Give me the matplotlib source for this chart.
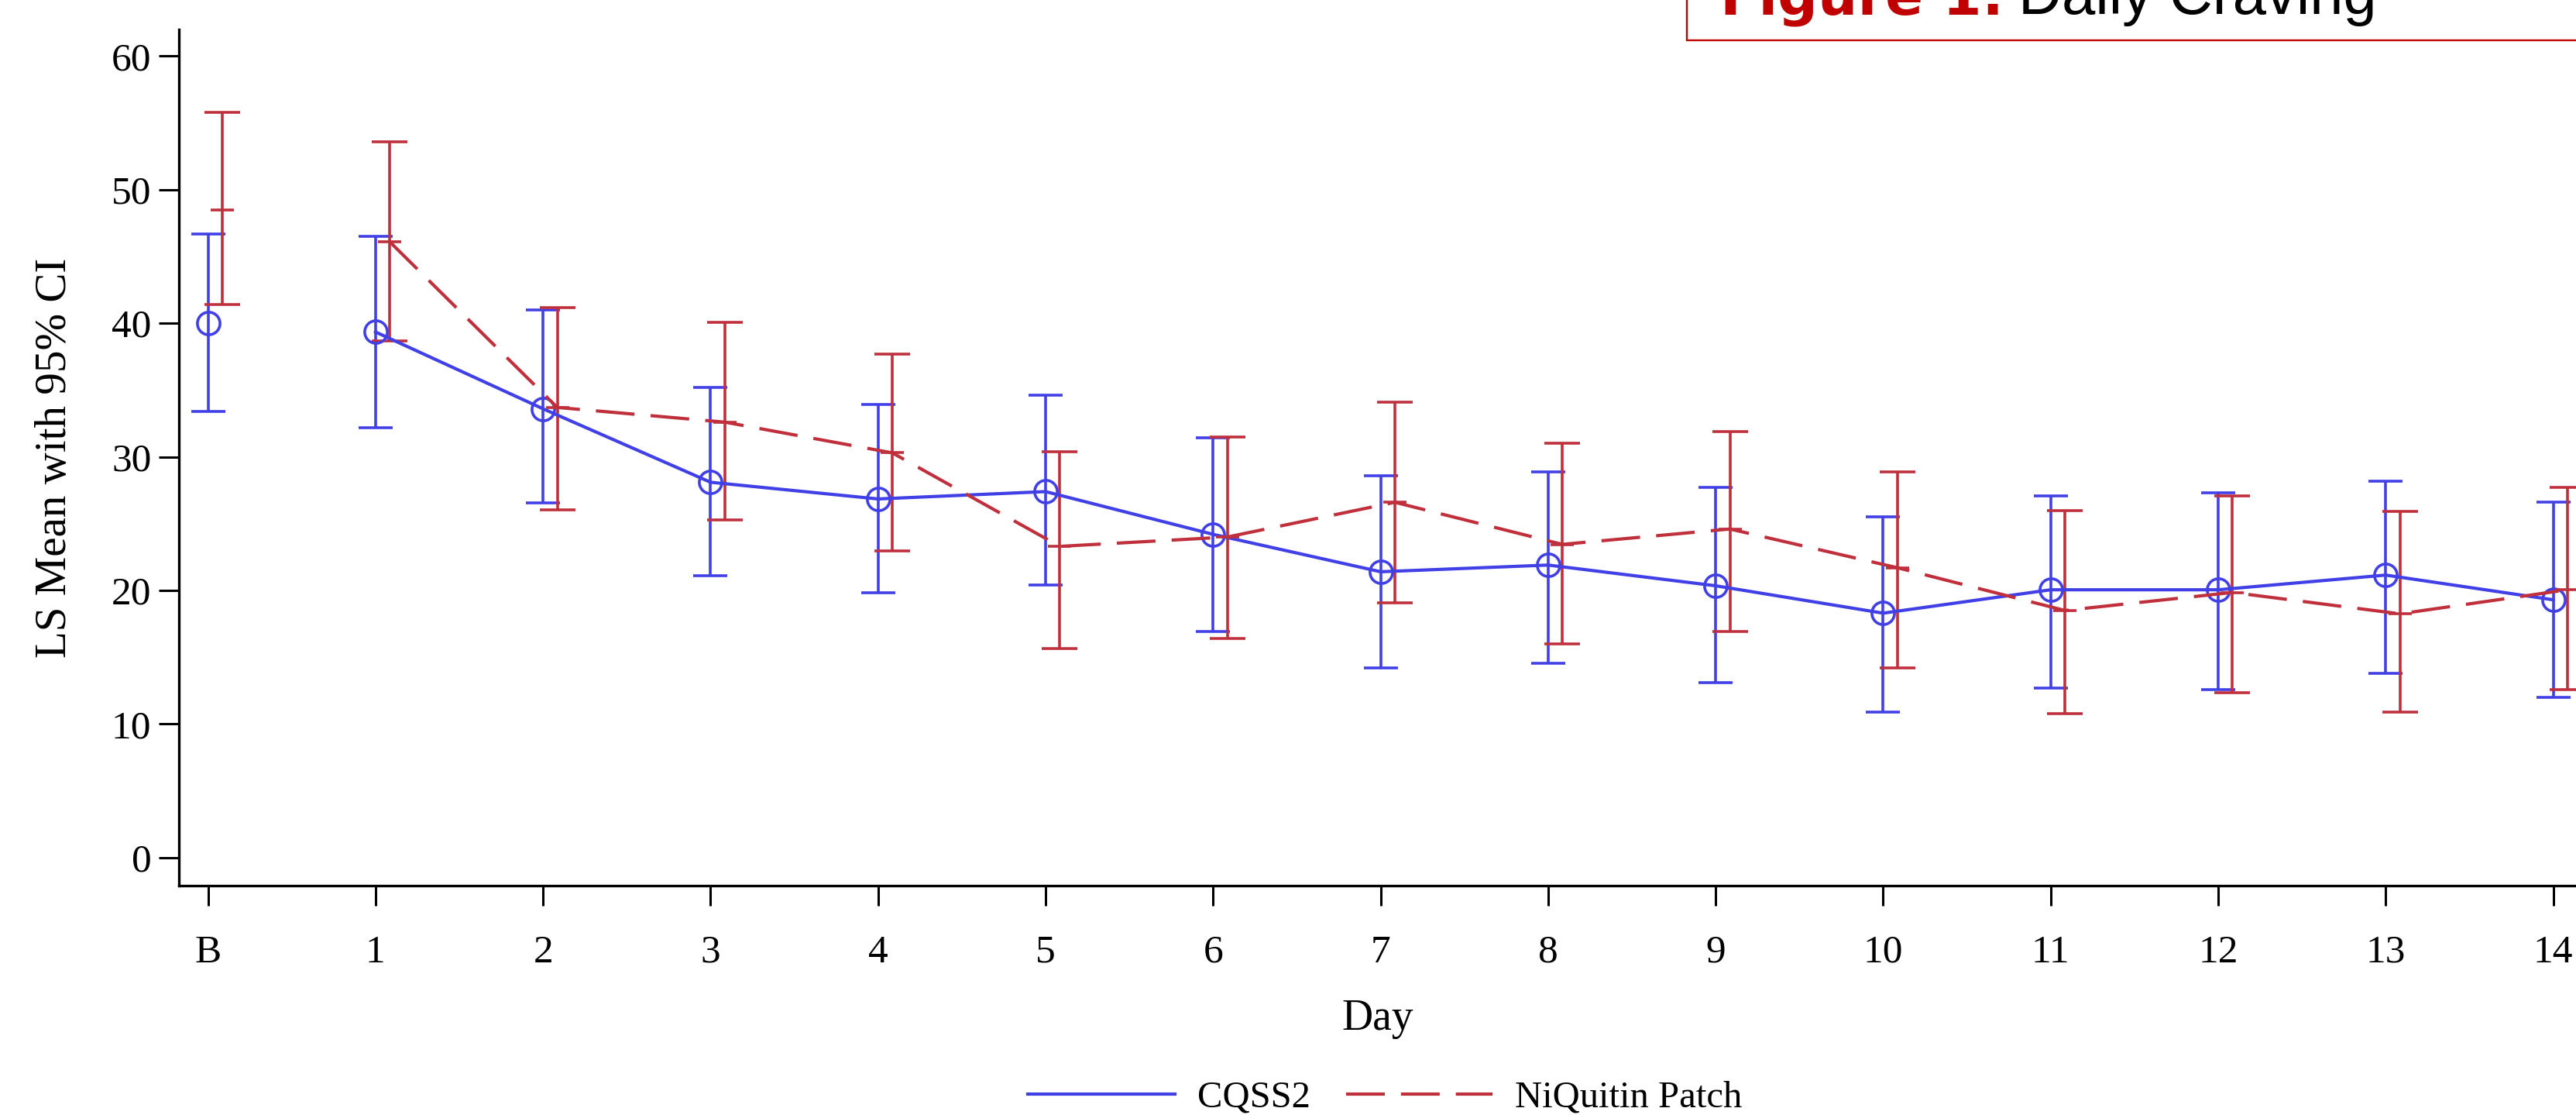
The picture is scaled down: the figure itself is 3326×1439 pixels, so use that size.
import numpy as np
import matplotlib
matplotlib.use("Agg")
import matplotlib.pyplot as plt
from matplotlib.lines import Line2D
from matplotlib.patches import Rectangle

days = ['B', '1', '2', '3', '4', '5', '6', '7', '8', '9', '10', '11', '12', '13', '14']

cqss2_mean = [40.0, 39.35, 33.6, 28.1, 26.85, 27.4, 24.2, 21.4, 21.9, 20.35, 18.3, 20.05, 20.05, 21.15, 19.3]
cqss2_lower = [33.4, 32.2, 26.55, 21.1, 19.85, 20.4, 16.9, 14.2, 14.55, 13.1, 10.9, 12.7, 12.55, 13.8, 12.0]
cqss2_upper = [46.7, 46.5, 41.0, 35.2, 33.9, 34.6, 31.4, 28.6, 28.9, 27.7, 25.5, 27.1, 27.3, 28.2, 26.6]

niq_mean = [48.5, 46.1, 33.7, 32.6, 30.3, 23.3, 24.0, 26.6, 23.45, 24.6, 21.7, 18.5, 19.85, 18.25, 20.05]
niq_lower = [41.4, 38.7, 26.06, 25.3, 22.98, 15.65, 16.4, 19.1, 16.0, 16.9, 14.2, 10.75, 12.35, 10.9, 12.55]
niq_upper = [55.8, 53.6, 41.15, 40.1, 37.7, 30.4, 31.5, 34.1, 31.0, 31.9, 28.9, 26.0, 27.1, 25.9, 27.7]

blue = '#4040E6'
red = '#C0303C'
serif = 'Liberation Serif'

x = np.arange(len(days))
xr = x + 0.085  # NiQuitin bars are nudged right

cm = np.array(cqss2_mean)
nm = np.array(niq_mean)

fig = plt.figure(figsize=(33.26, 14.39), dpi=100)
ax = fig.add_axes([0.0695, 0.2057, 0.9305, 0.7679])

# confidence intervals
ax.errorbar(x, cm, yerr=[cm - np.array(cqss2_lower), np.array(cqss2_upper) - cm],
            fmt='none', ecolor=blue, elinewidth=2.6, capsize=16, capthick=2.6)
ax.errorbar(xr, nm, yerr=[nm - np.array(niq_lower), np.array(niq_upper) - nm],
            fmt='none', ecolor=red, elinewidth=2.6, capsize=16.5, capthick=2.6)

# means: baseline stands alone, days 1-14 are joined
dash = (0, (12, 5))
ax.plot(x[1:], cm[1:], color=blue, lw=3.0, marker='o', ms=21, mfc='none', mew=2.6)
ax.plot(x[:1], cm[:1], color=blue, lw=0, marker='o', ms=21, mfc='none', mew=2.6)
ax.plot(xr[1:], nm[1:], color=red, lw=3.0, ls=dash, marker='_', ms=22, mew=2.6)
ax.plot(xr[:1], nm[:1], color=red, lw=0, marker='_', ms=22, mew=2.6)

ax.set_xlim(-0.173, 14.136)
ax.set_ylim(-2.1, 62)
ax.set_xticks(x)
ax.set_xticklabels(days)
ax.set_yticks([0, 10, 20, 30, 40, 50, 60])

for s in ['top', 'right']:
    ax.spines[s].set_visible(False)
for s in ['left', 'bottom']:
    ax.spines[s].set_linewidth(2.4)

ax.tick_params(axis='both', direction='out', length=18.7, width=2.2, labelsize=37)
ax.tick_params(axis='x', pad=27)
ax.tick_params(axis='y', pad=7)
for lab in ax.get_xticklabels() + ax.get_yticklabels():
    lab.set_fontfamily(serif)

ax.set_xlabel('Day', fontsize=40, fontfamily=serif, labelpad=26)
ax.set_ylabel('LS Mean with 95% CI', fontsize=41, fontfamily=serif, labelpad=34)

handles = [Line2D([], [], color=blue, lw=3.0),
           Line2D([], [], color=red, lw=3.0, ls=dash)]
fig.legend(handles, ['CQSS2', 'NiQuitin Patch'], loc='center', bbox_to_anchor=(0.5377, 0.0155),
           ncol=2, frameon=False, handlelength=3.9, handletextpad=0.6, columnspacing=0.95,
           borderpad=0, prop={'family': serif, 'size': 35})

# title box, top cut off by the image edge
fig.patches.append(Rectangle((0.6549, 1 - 52 / 1439), 0.5, 0.2, transform=fig.transFigure,
                             facecolor='white', edgecolor='#C00000', lw=1.7, zorder=0))
fig.text(2221 / 3326, 1 - 18 / 1439, 'Figure 1:', color='#C00000', fontweight='bold',
         fontsize=52, fontfamily='DejaVu Sans', va='baseline', ha='left')
fig.text(2606 / 3326, 1 - 18 / 1439, 'Daily Craving', color='black',
         fontsize=56, fontfamily='Liberation Sans', va='baseline', ha='left')

fig.savefig('out.png', dpi=100)
